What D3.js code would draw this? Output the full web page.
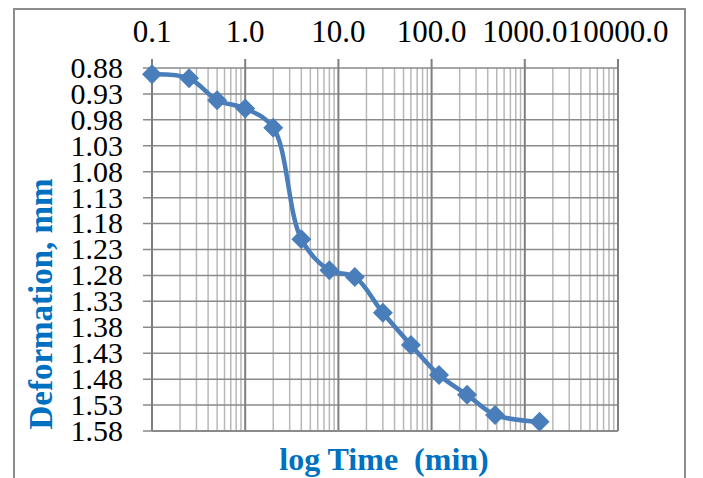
<!DOCTYPE html>
<html>
<head>
<meta charset="utf-8">
<script src="https://cdn.jsdelivr.net/npm/d3@7"></script>
<style>
  html, body { margin: 0; padding: 0; background: #fff; }
  svg { display: block; }
  text { font-family: "Liberation Serif", "Times New Roman", serif; }
</style>
</head>
<body>
<svg id="chart" width="703" height="478"></svg>
<script>
// Consolidation readings: elapsed time (min) vs. dial deformation (mm)
const timeMin = [0.1, 0.25, 0.5, 1, 2, 4, 8, 15, 30, 60, 120, 240, 480, 1440];
const deformation = [0.892, 0.900, 0.942, 0.958, 0.995, 1.210, 1.270, 1.283, 1.352, 1.414, 1.472, 1.510, 1.549, 1.562];

const xTickValues = [0.1, 1, 10, 100, 1000, 10000];
const yTickValues = [0.88, 0.93, 0.98, 1.03, 1.08, 1.13, 1.18, 1.23, 1.28, 1.33, 1.38, 1.43, 1.48, 1.53, 1.58];

const xTitle = "log Time  (min)";
const yTitle = "Deformation, mm";

const svg = d3.select("#chart");
const plot = { left: 152, right: 618, top: 68, bottom: 431 };

// chart frame
svg.append("rect")
  .attr("x", 14).attr("y", 9)
  .attr("width", 671).attr("height", 490)
  .attr("fill", "#fff")
  .attr("stroke", "#8c8c8c").attr("stroke-width", 2);

const x = d3.scaleLog().domain([0.1, 10000]).range([plot.left, plot.right]);
const y = d3.scaleLinear().domain([0.88, 1.58]).range([plot.top, plot.bottom]);

// minor vertical grid (2..9 of each decade)
const minor = [];
for (let e = -1; e < 4; e++) {
  for (let k = 2; k <= 9; k++) minor.push(k * Math.pow(10, e));
}
svg.append("g").selectAll("line").data(minor).join("line")
  .attr("x1", d => x(d)).attr("x2", d => x(d))
  .attr("y1", plot.top).attr("y2", plot.bottom)
  .attr("stroke", "#b8b8b8").attr("stroke-width", 1.5);

// horizontal grid with left ticks
svg.append("g").selectAll("line").data(yTickValues).join("line")
  .attr("x1", plot.left - 9).attr("x2", plot.right)
  .attr("y1", d => y(d)).attr("y2", d => y(d))
  .attr("stroke", "#8a8a8a").attr("stroke-width", 1.5);

// major vertical grid at decades, ticks rising above the plot
svg.append("g").selectAll("line").data(xTickValues).join("line")
  .attr("x1", d => x(d)).attr("x2", d => x(d))
  .attr("y1", plot.top - 9).attr("y2", plot.bottom)
  .attr("stroke", "#7f7f7f").attr("stroke-width", 2);

// bottom edge
svg.append("line")
  .attr("x1", plot.left).attr("x2", plot.right)
  .attr("y1", plot.bottom).attr("y2", plot.bottom)
  .attr("stroke", "#8a8a8a").attr("stroke-width", 2);

// top axis labels
svg.append("g").selectAll("text").data(xTickValues).join("text")
  .attr("x", d => x(d)).attr("y", 42)
  .attr("text-anchor", "middle")
  .attr("font-size", 31)
  .attr("fill", "#000")
  .text(d => d.toFixed(1));

// left axis labels
svg.append("g").selectAll("text").data(yTickValues).join("text")
  .attr("x", 123).attr("y", d => y(d))
  .attr("dy", "0.33em")
  .attr("text-anchor", "end")
  .attr("font-size", 30)
  .attr("fill", "#000")
  .text(d => d.toFixed(2));

// axis titles
svg.append("text")
  .attr("x", 384).attr("y", 470)
  .attr("text-anchor", "middle")
  .attr("font-size", 32).attr("font-weight", "bold")
  .attr("fill", "#0070c0")
  .style("white-space", "pre")
  .text(xTitle);

svg.append("text")
  .attr("transform", "translate(52,304) rotate(-90)")
  .attr("text-anchor", "middle")
  .attr("font-size", 33).attr("font-weight", "bold")
  .attr("fill", "#0070c0")
  .text(yTitle);

// data series
const pts = timeMin.map((t, i) => [x(t), y(deformation[i])]);
const line = d3.line().curve(d3.curveCatmullRom.alpha(0.5));
svg.append("path")
  .attr("d", line(pts))
  .attr("fill", "none")
  .attr("stroke", "#4a7ebb")
  .attr("stroke-width", 4.5)
  .attr("stroke-linejoin", "round");

const r = 10;
svg.append("g").selectAll("path").data(pts).join("path")
  .attr("d", d => `M${d[0]},${d[1] - r}L${d[0] + r},${d[1]}L${d[0]},${d[1] + r}L${d[0] - r},${d[1]}Z`)
  .attr("fill", "#4a7ebb");
</script>
</body>
</html>
